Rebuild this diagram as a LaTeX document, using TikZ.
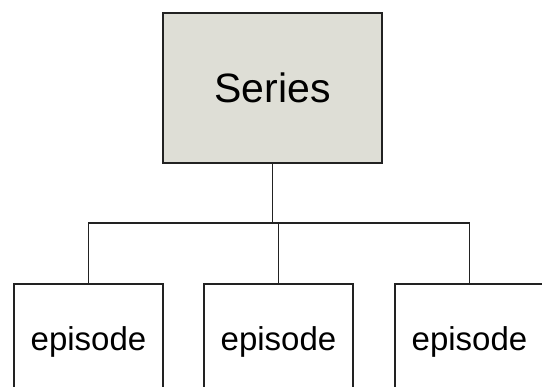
\documentclass[tikz,border=0pt]{standalone}
\usepackage{fontspec}
\setmainfont{Liberation Sans}
\definecolor{seriesfill}{HTML}{DEDED6}
\definecolor{boxline}{HTML}{222222}
\begin{document}
\begin{tikzpicture}[x=1pt,y=1pt,
    box/.style={draw=boxline,line width=1.3pt,inner sep=0pt},
    link/.style={draw=boxline,line width=1.3pt}]
    \useasboundingbox (0,0) rectangle (542,387);
    \clip (0,0) rectangle (542,387);
    \node [box,fill=seriesfill,minimum width=219pt,minimum height=150pt,
           font=\fontsize{41}{48}\selectfont] (series) at (272.5,299) {Series};
    \node [box,fill=white,minimum width=149pt,minimum height=115pt,
           font=\fontsize{33}{40}\selectfont] (ep1) at (88.5,45.5) {episode};
    \node [box,fill=white,minimum width=149pt,minimum height=115pt,
           font=\fontsize{33}{40}\selectfont] (ep2) at (278.5,45.5) {episode};
    \node [box,fill=white,minimum width=149pt,minimum height=115pt,
           font=\fontsize{33}{40}\selectfont] (ep3) at (469.5,45.5) {episode};
    \coordinate (bus) at (272.5,164);
    \draw [link] (series.south) -- (bus);
    \draw [link] (ep1.north) -- (ep1.north |- bus) -- (ep3.north |- bus) -- (ep3.north);
    \draw [link] (ep2.north) -- (ep2.north |- bus);
\end{tikzpicture}
\end{document}
